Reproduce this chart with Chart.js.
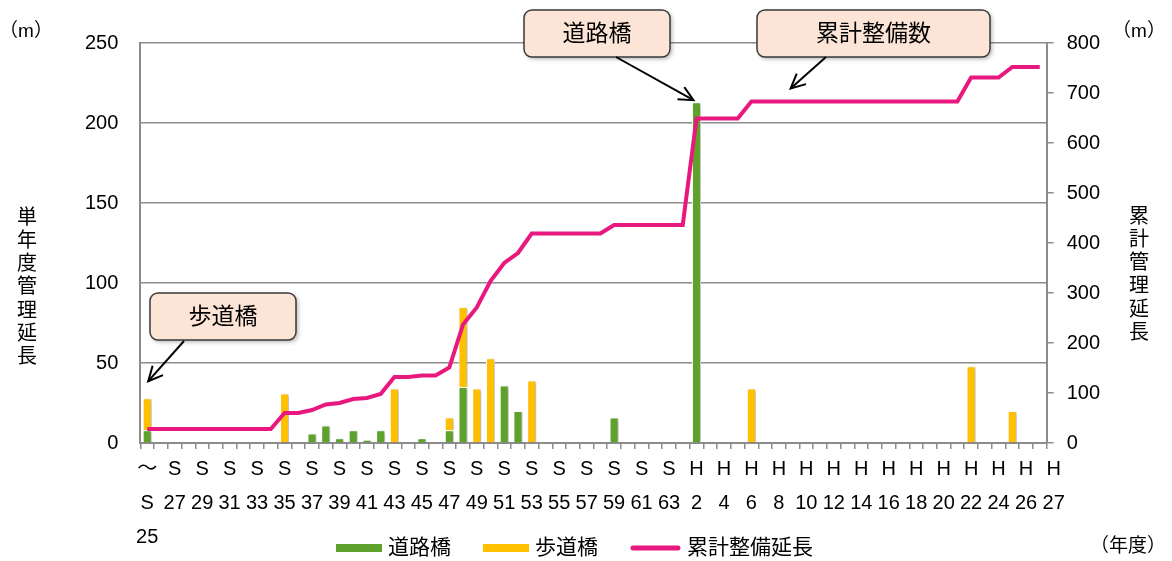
<!DOCTYPE html>
<html lang="ja">
<head>
  <meta charset="UTF-8">
  <title>橋梁の年度別整備延長</title>
  <script src="https://cdn.jsdelivr.net/npm/chart.js"></script>
  <style>
    body { margin: 0; background: #fff; }
    #wrap { width: 1172px; height: 561px; }
  </style>
</head>
<body>
  <div id="wrap"><canvas id="bridgeChart" width="1172" height="561"></canvas></div>

  <script>
    const FONT = "'Liberation Sans', 'Noto Sans CJK JP', sans-serif";

    const years = [
      'S25','S26','S27','S28','S29','S30','S31','S32','S33','S34',
      'S35','S36','S37','S38','S39','S40','S41','S42','S43','S44',
      'S45','S46','S47','S48','S49','S50','S51','S52','S53','S54',
      'S55','S56','S57','S58','S59','S60','S61','S62','S63','H1',
      'H2','H3','H4','H5','H6','H7','H8','H9','H10','H11',
      'H12','H13','H14','H15','H16','H17','H18','H19','H20','H21',
      'H22','H23','H24','H25','H26','H27'
    ];

    // 道路橋 (m)
    const roadBridge = [
      8,0,0,0,0,0,0,0,0,0,
      0,0,6,11,3,8,2,8,0,0,
      3,0,8,35,0,0,36,20,0,0,
      0,0,0,0,16,0,0,0,0,0,
      213,0,0,0,0,0,0,0,0,0,
      0,0,0,0,0,0,0,0,0,0,
      0,0,0,0,0,0
    ];

    // 歩道橋 (m)
    const footBridge = [
      20,0,0,0,0,0,0,0,0,0,
      31,0,0,0,0,0,0,0,34,0,
      0,0,8,50,34,53,0,0,39,0,
      0,0,0,0,0,0,0,0,0,0,
      0,0,0,0,34,0,0,0,0,0,
      0,0,0,0,0,0,0,0,0,0,
      48,0,0,20,0,0
    ];

    // 累計整備延長 (m)
    const cumulative = [
      28,28,28,28,28,28,28,28,28,28,
      60,60,66,77,80,88,90,98,132,132,
      135,135,151,237,271,324,360,380,419,419,
      419,419,419,419,436,436,436,436,436,436,
      649,649,649,649,683,683,683,683,683,683,
      683,683,683,683,683,683,683,683,683,683,
      731,731,731,752,752,752
    ];

    const leftTicks = [0, 50, 100, 150, 200, 250];
    const rightTicks = [0, 100, 200, 300, 400, 500, 600, 700, 800];

    Chart.defaults.font.family = FONT;
    Chart.defaults.color = '#000';

    function callout(ctx, text, box, from, tip) {
      ctx.save();
      ctx.shadowColor = 'rgba(0,0,0,0.3)';
      ctx.shadowBlur = 4;
      ctx.shadowOffsetX = 2;
      ctx.shadowOffsetY = 2;
      ctx.beginPath();
      ctx.roundRect(box.x, box.y, box.w, box.h, 8);
      ctx.fillStyle = '#fce4d6';
      ctx.fill();
      ctx.restore();

      ctx.beginPath();
      ctx.roundRect(box.x, box.y, box.w, box.h, 8);
      ctx.strokeStyle = '#3a3a3a';
      ctx.lineWidth = 1.5;
      ctx.stroke();

      ctx.fillStyle = '#000';
      ctx.font = '23px ' + FONT;
      ctx.textAlign = 'center';
      ctx.textBaseline = 'middle';
      ctx.fillText(text, box.x + box.w / 2, box.y + box.h / 2 + 1);

      // arrow
      ctx.strokeStyle = '#000';
      ctx.lineWidth = 2;
      ctx.beginPath();
      ctx.moveTo(from.x, from.y);
      ctx.lineTo(tip.x, tip.y);
      ctx.stroke();
      const a = Math.atan2(tip.y - from.y, tip.x - from.x);
      const len = 16, spread = 0.45;
      ctx.beginPath();
      ctx.moveTo(tip.x - len * Math.cos(a - spread), tip.y - len * Math.sin(a - spread));
      ctx.lineTo(tip.x, tip.y);
      ctx.lineTo(tip.x - len * Math.cos(a + spread), tip.y - len * Math.sin(a + spread));
      ctx.stroke();
    }

    const decorations = {
      id: 'decorations',
      beforeDatasetDraw(chart, args) {
        if (args.meta.type !== 'bar') return;
        const ctx = chart.ctx;
        ctx.save();
        ctx.shadowColor = 'rgba(0,0,0,0.28)';
        ctx.shadowBlur = 3;
        ctx.shadowOffsetX = 2;
        ctx.shadowOffsetY = 1;
      },
      afterDatasetDraw(chart, args) {
        if (args.meta.type === 'bar') chart.ctx.restore();
      },
      afterDraw(chart) {
        const ctx = chart.ctx;
        const { x, y, y1 } = chart.scales;
        ctx.save();
        ctx.fillStyle = '#000';
        ctx.textAlign = 'center';
        ctx.textBaseline = 'middle';

        // units
        ctx.font = '19px ' + FONT;
        ctx.fillText('（m）', 26, 32);
        ctx.fillText('（m）', 1139, 32);
        ctx.fillText('（年度）', 1128, 547);

        // axis titles, one character per row
        ctx.font = '20px ' + FONT;
        '単年度管理延長'.split('').forEach((c, i) => ctx.fillText(c, 27, 218 + i * 23.3));
        '累計管理延長'.split('').forEach((c, i) => ctx.fillText(c, 1139, 217 + i * 23.3));

        // legend
        ctx.font = '21px ' + FONT;
        ctx.textAlign = 'left';
        let lx = 336;
        const ly = 548;
        chart.data.datasets.forEach(ds => {
          if (ds.type === 'line') {
            ctx.strokeStyle = ds.borderColor;
            ctx.lineWidth = 5;
            ctx.lineCap = 'round';
            ctx.beginPath();
            ctx.moveTo(lx + 3, ly);
            ctx.lineTo(lx + 48, ly);
            ctx.stroke();
            lx += 51;
          } else {
            ctx.fillStyle = ds.backgroundColor;
            ctx.fillRect(lx, ly - 4, 46, 8);
            lx += 46;
          }
          lx += 6;
          ctx.fillStyle = '#000';
          ctx.fillText(ds.label, lx, ly);
          lx += ctx.measureText(ds.label).width + 32;
        });
        ctx.lineCap = 'butt';

        // callouts
        const p0 = { x: x.getPixelForValue(0), y: y.getPixelForValue(roadBridge[0] + footBridge[0]) };
        callout(ctx, '歩道橋', { x: 150, y: 293, w: 146, h: 47 }, { x: 184, y: 341 }, { x: p0.x + 1, y: p0.y - 17 });

        const p40 = { x: x.getPixelForValue(40), y: y.getPixelForValue(roadBridge[40]) };
        callout(ctx, '道路橋', { x: 524, y: 10, w: 146, h: 47 }, { x: 616, y: 57 }, { x: p40.x - 3, y: p40.y - 2 });

        const p47 = { x: x.getPixelForValue(47), y: y1.getPixelForValue(cumulative[47]) };
        callout(ctx, '累計整備数', { x: 757, y: 10, w: 233, h: 47 }, { x: 826, y: 57 }, { x: p47.x - 2, y: p47.y - 13 });

        ctx.restore();
      }
    };

    const gridGray = '#8c8c8c';

    new Chart(document.getElementById('bridgeChart'), {
      type: 'bar',
      data: {
        labels: years,
        datasets: [
          {
            label: '道路橋',
            data: roadBridge,
            backgroundColor: '#5ea12b',
            borderColor: '#fff',
            borderWidth: 1,
            stack: 'bridge',
            order: 1,
            barPercentage: 0.66,
            categoryPercentage: 1
          },
          {
            label: '歩道橋',
            data: footBridge,
            backgroundColor: '#ffc000',
            borderColor: '#fff',
            borderWidth: 1,
            stack: 'bridge',
            order: 1,
            barPercentage: 0.66,
            categoryPercentage: 1
          },
          {
            type: 'line',
            label: '累計整備延長',
            data: cumulative,
            yAxisID: 'y1',
            borderColor: '#e8187f',
            backgroundColor: '#e8187f',
            borderWidth: 4,
            pointRadius: 0,
            tension: 0,
            order: 0
          }
        ]
      },
      options: {
        responsive: false,
        animation: false,
        layout: { padding: { left: 63, right: 59, top: 43, bottom: 4 } },
        plugins: {
          legend: { display: false },
          tooltip: { enabled: false }
        },
        scales: {
          x: {
            stacked: true,
            grid: { offset: true, drawOnChartArea: false, drawTicks: true, tickLength: 6, color: gridGray, lineWidth: 1.5 },
            border: { color: gridGray, width: 2 },
            ticks: {
              autoSkip: false,
              maxRotation: 0,
              minRotation: 0,
              padding: 3,
              font: { size: 20, lineHeight: 1.7 },
              callback(value, index) {
                const lbl = years[index];
                const era = lbl[0], num = lbl.slice(1);
                if (index === 0) return ['～', era, num];
                if (index === years.length - 1) return ['     ' + era, '     ' + num];
                if (index % 2 === 1) return '';
                return [era, num];
              }
            }
          },
          y: {
            stacked: true,
            min: leftTicks[0],
            max: leftTicks[leftTicks.length - 1],
            grid: { color: gridGray, lineWidth: 1.5, drawTicks: false },
            border: { color: gridGray, width: 2 },
            ticks: { stepSize: leftTicks[1] - leftTicks[0], padding: 22, font: { size: 20 } }
          },
          y1: {
            position: 'right',
            min: rightTicks[0],
            max: rightTicks[rightTicks.length - 1],
            grid: { drawOnChartArea: false, drawTicks: true, tickLength: 7, color: gridGray, lineWidth: 1.5 },
            border: { color: gridGray, width: 2 },
            ticks: { stepSize: rightTicks[1] - rightTicks[0], padding: 13, font: { size: 20 } }
          }
        }
      },
      plugins: [decorations]
    });
  </script>
</body>
</html>
